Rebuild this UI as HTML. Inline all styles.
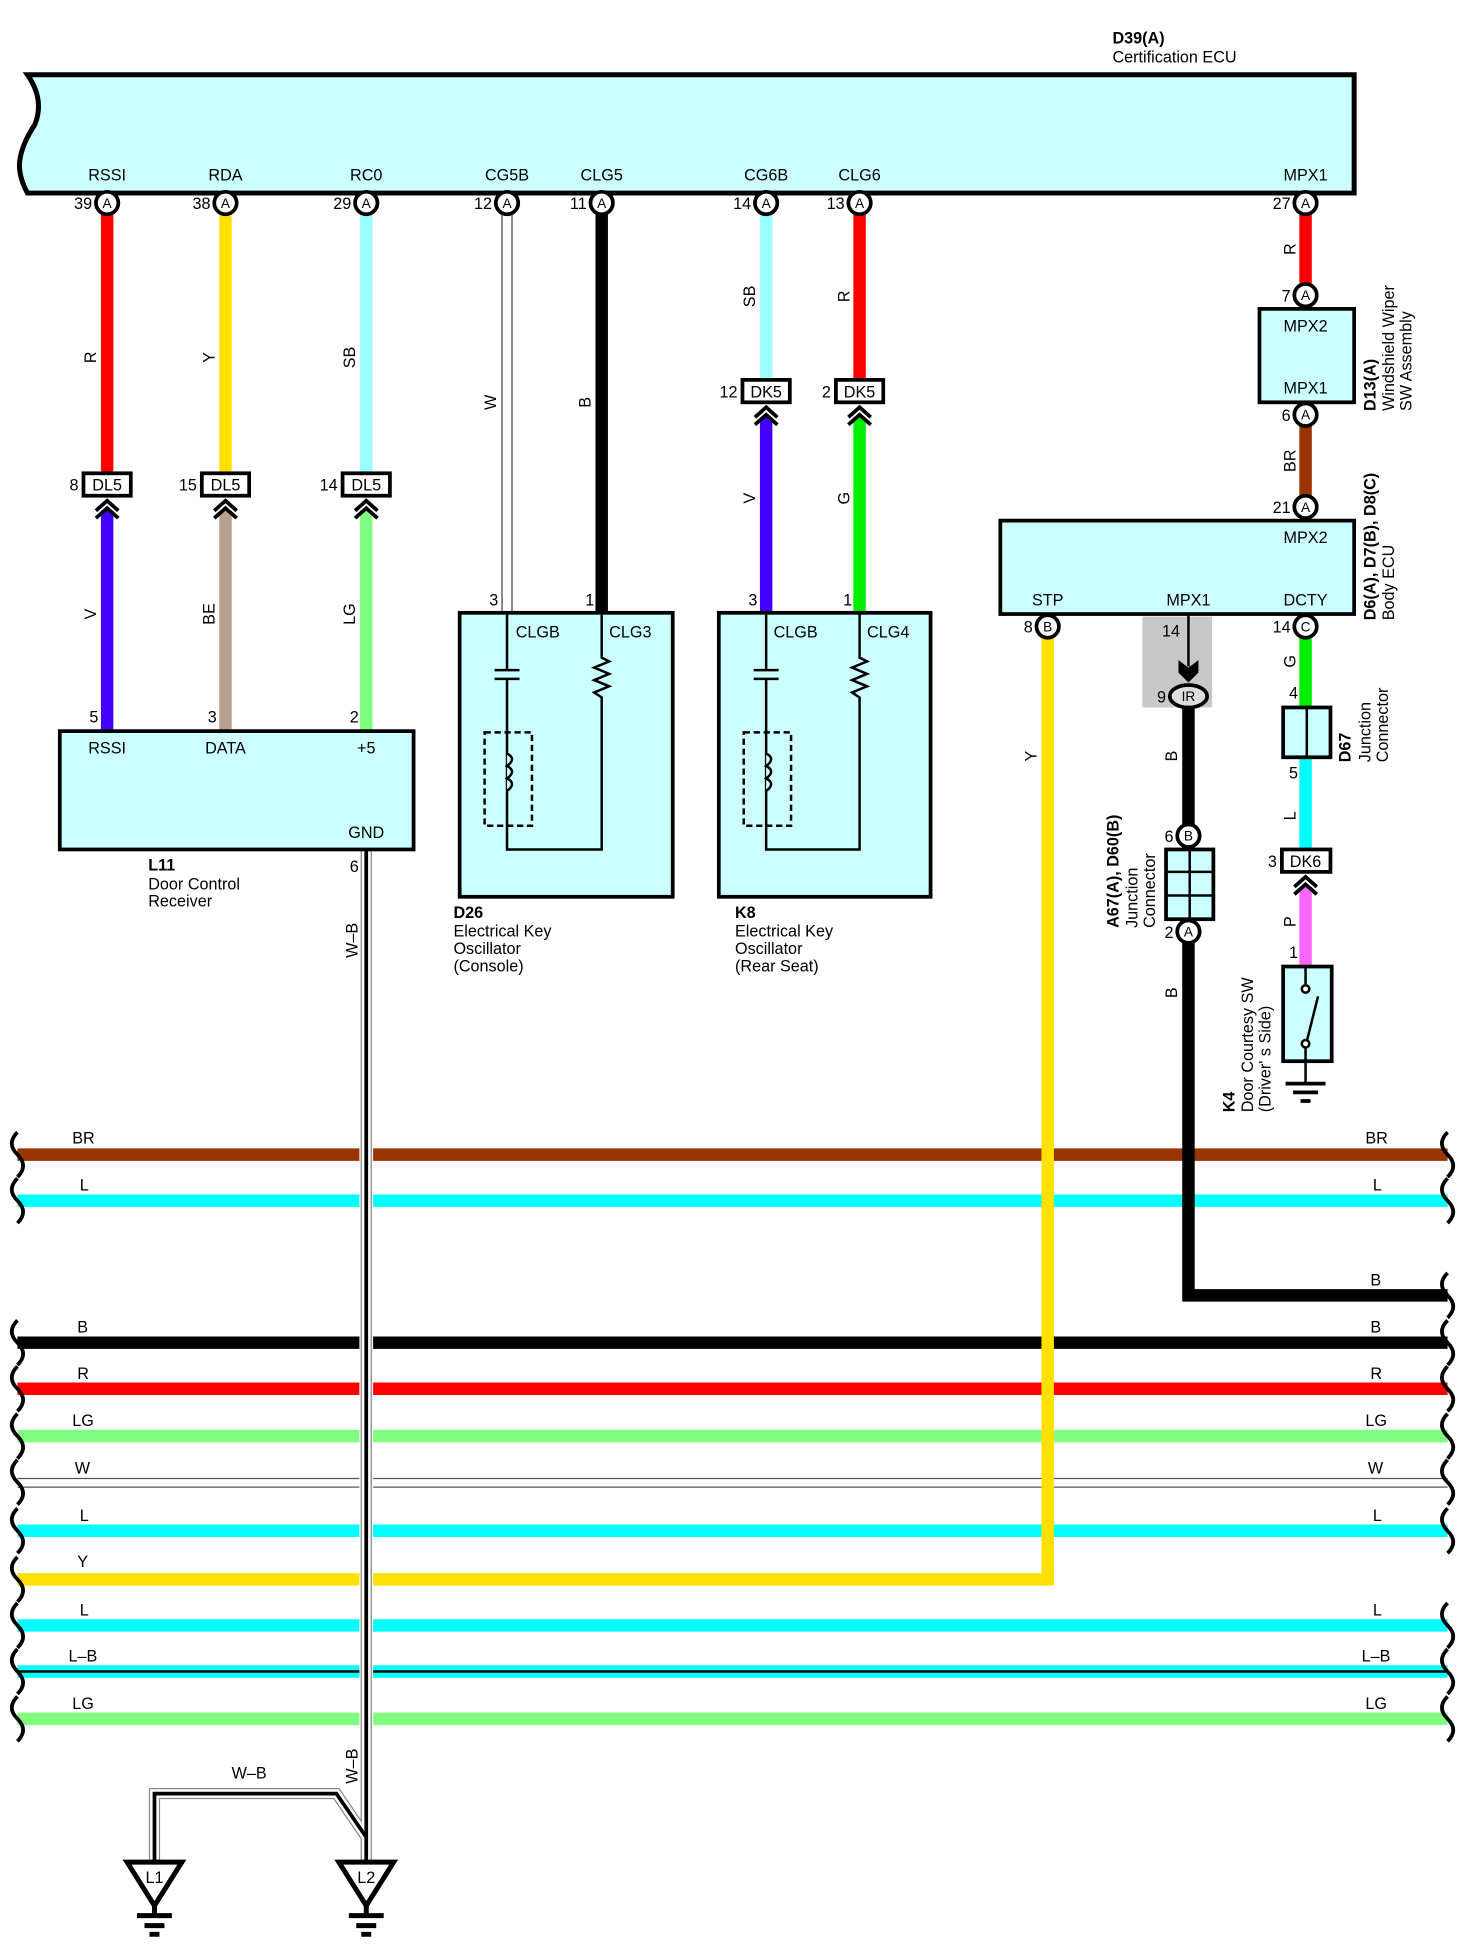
<!DOCTYPE html>
<html><head><meta charset="utf-8"><style>
html,body{margin:0;padding:0;background:#fff;}
svg{display:block;}
text{font-family:"Liberation Sans",Arial,sans-serif;font-size:13px;fill:#000;}
.b{font-weight:bold;}
.c{text-anchor:middle;}
.r{text-anchor:end;}
</style></head><body>
<svg width="1470" height="1953" viewBox="0 0 1180 1568" preserveAspectRatio="none" xmlns="http://www.w3.org/2000/svg">
<defs>
<path id="wv" d="M0 -18 q-9 9 0 18 q9 9 0 18" fill="none" stroke="#000" stroke-width="3"/>
</defs>

<!-- ECU -->
<path d="M22 60 L1087 60 L1087 155 L22 155 Q14 140 16 128 Q18 115 28 100 Q36 80 22 60 Z" fill="#ccffff" stroke="#000" stroke-width="4"/>
<text x="893" y="35" class="b">D39(A)</text>
<text x="893" y="50">Certification ECU</text>
<g class="c">
<text x="86" y="145" class="c">RSSI</text><text x="181" y="145" class="c">RDA</text><text x="294" y="145" class="c">RC0</text>
<text x="407" y="145" class="c">CG5B</text><text x="483" y="145" class="c">CLG5</text><text x="615" y="145" class="c">CG6B</text>
<text x="690" y="145" class="c">CLG6</text><text x="1048" y="145" class="c">MPX1</text>
</g>

<!-- bus lines -->
<g stroke-width="10" fill="none">
<line x1="14" y1="927" x2="1162" y2="927" stroke="#993300"/>
<line x1="14" y1="964" x2="1162" y2="964" stroke="#00ffff"/>
<line x1="14" y1="1078" x2="1162" y2="1078" stroke="#000"/>
<line x1="14" y1="1115" x2="1162" y2="1115" stroke="#ff0000"/>
<line x1="14" y1="1153" x2="1162" y2="1153" stroke="#80ff80"/>
<line x1="14" y1="1229" x2="1162" y2="1229" stroke="#00ffff"/>
<line x1="14" y1="1268" x2="841" y2="1268" stroke="#ffe000"/>
<line x1="14" y1="1305" x2="1162" y2="1305" stroke="#00ffff"/>
<line x1="14" y1="1342" x2="1162" y2="1342" stroke="#00ffff"/>
<line x1="14" y1="1380" x2="1162" y2="1380" stroke="#80ff80"/>
</g>
<line x1="14" y1="1342" x2="1162" y2="1342" stroke="#000" stroke-width="2"/>
<line x1="14" y1="1187" x2="1162" y2="1187" stroke="#555" stroke-width="1"/>
<line x1="14" y1="1194" x2="1162" y2="1194" stroke="#555" stroke-width="1"/>
<g>
<use href="#wv" x="14" y="927"/><use href="#wv" x="14" y="964"/><use href="#wv" x="14" y="1078"/><use href="#wv" x="14" y="1115"/>
<use href="#wv" x="14" y="1153"/><use href="#wv" x="14" y="1190"/><use href="#wv" x="14" y="1229"/><use href="#wv" x="14" y="1268"/>
<use href="#wv" x="14" y="1305"/><use href="#wv" x="14" y="1342"/><use href="#wv" x="14" y="1380"/>
<use href="#wv" x="1162" y="927"/><use href="#wv" x="1162" y="964"/><use href="#wv" x="1162" y="1040"/><use href="#wv" x="1162" y="1078"/><use href="#wv" x="1162" y="1115"/>
<use href="#wv" x="1162" y="1153"/><use href="#wv" x="1162" y="1190"/><use href="#wv" x="1162" y="1229"/>
<use href="#wv" x="1162" y="1305"/><use href="#wv" x="1162" y="1342"/><use href="#wv" x="1162" y="1380"/>
</g>
<g>
<text x="58" y="918">BR</text><text x="64" y="956">L</text><text x="62" y="1070">B</text><text x="62" y="1107">R</text>
<text x="58" y="1145">LG</text><text x="60" y="1183">W</text><text x="64" y="1221">L</text><text x="62" y="1258">Y</text>
<text x="64" y="1297">L</text><text x="55" y="1334">L–B</text><text x="58" y="1372">LG</text>
<text x="1096" y="918">BR</text><text x="1102" y="956">L</text><text x="1100" y="1032">B</text><text x="1100" y="1070">B</text><text x="1100" y="1107">R</text>
<text x="1096" y="1145">LG</text><text x="1098" y="1183">W</text><text x="1102" y="1221">L</text>
<text x="1102" y="1297">L</text><text x="1093" y="1334">L–B</text><text x="1096" y="1372">LG</text>
</g>

<!-- left wires -->
<g stroke-width="10">
<line x1="86" y1="172" x2="86" y2="380" stroke="#ff0000"/>
<line x1="181" y1="172" x2="181" y2="380" stroke="#ffe000"/>
<line x1="294" y1="172" x2="294" y2="380" stroke="#99ffff"/>
<line x1="86" y1="410" x2="86" y2="588" stroke="#4400ff"/>
<line x1="181" y1="410" x2="181" y2="588" stroke="#b8a08c"/>
<line x1="294" y1="410" x2="294" y2="588" stroke="#80ff80"/>
<line x1="483" y1="172" x2="483" y2="493" stroke="#000"/>
<line x1="615" y1="172" x2="615" y2="305" stroke="#99ffff"/>
<line x1="690" y1="172" x2="690" y2="305" stroke="#ff0000"/>
<line x1="615" y1="335" x2="615" y2="493" stroke="#4400ff"/>
<line x1="690" y1="335" x2="690" y2="493" stroke="#00ee00"/>
<line x1="1048" y1="172" x2="1048" y2="230" stroke="#ff0000"/>
<line x1="1048" y1="340" x2="1048" y2="400" stroke="#993300"/>
<line x1="841" y1="510" x2="841" y2="1268" stroke="#ffe000"/>
<line x1="1048" y1="510" x2="1048" y2="568" stroke="#00ee00"/>
<line x1="1048" y1="608" x2="1048" y2="682" stroke="#00ffff"/>
<line x1="1048" y1="712" x2="1048" y2="776" stroke="#ff66ff"/>
</g>
<line x1="836" y1="1268" x2="846" y2="1268" stroke="#ffe000" stroke-width="10"/>
<path d="M954 568 L954 1040 L1162 1040" fill="none" stroke="#000" stroke-width="10"/>
<!-- W wire -->
<rect x="403" y="172" width="8" height="320" fill="#fff" stroke="#444" stroke-width="1"/>

<!-- W-B wire -->
<path d="M294 682 L294 1490 M294 1475 L270 1440 L124 1440 L124 1495" fill="none" stroke="#fff" stroke-width="11"/>
<path d="M294 682 L294 1495 M294 1475 L270 1440 L124 1440 L124 1495" fill="none" stroke="#888" stroke-width="9"/>
<path d="M294 682 L294 1495 M294 1475 L270 1440 L124 1440 L124 1495" fill="none" stroke="#fff" stroke-width="7"/>
<path d="M294 682 L294 1495 M294 1475 L270 1440 L124 1440 L124 1495" fill="none" stroke="#000" stroke-width="3"/>
<g transform="translate(287,755) rotate(-90)"><text class="c">W–B</text></g>
<g transform="translate(287,1418) rotate(-90)"><text class="c">W–B</text></g>
<text x="200" y="1428" class="c">W–B</text>
<!-- grounds -->
<g fill="none" stroke="#000" stroke-width="4">
<path d="M102 1495 L146 1495 L124 1530 Z"/><path d="M272 1495 L316 1495 L294 1530 Z"/>
<path d="M124 1530 L124 1538 M110 1538 L138 1538 M116 1546 L132 1546 M120 1553 L128 1553"/>
<path d="M294 1530 L294 1538 M280 1538 L308 1538 M286 1546 L302 1546 M290 1553 L298 1553"/>
</g>
<text x="124" y="1512" class="c">L1</text><text x="294" y="1512" class="c">L2</text>

<!-- pin circles -->
<g fill="#fff" stroke="#000" stroke-width="3">
<circle cx="86" cy="163" r="9"/><circle cx="181" cy="163" r="9"/><circle cx="294" cy="163" r="9"/><circle cx="407" cy="163" r="9"/>
<circle cx="483" cy="163" r="9"/><circle cx="615" cy="163" r="9"/><circle cx="690" cy="163" r="9"/><circle cx="1048" cy="163" r="9"/>
<circle cx="1048" cy="237" r="9"/><circle cx="1048" cy="333" r="9"/><circle cx="1048" cy="407" r="9"/>
<circle cx="841" cy="503" r="9"/><circle cx="1048" cy="503" r="9"/><circle cx="954" cy="671" r="9"/><circle cx="954" cy="748" r="9"/>
</g>
<g>
<text x="86" y="167" class="c" style="font-size:11px">A</text><text x="181" y="167" class="c" style="font-size:11px">A</text><text x="294" y="167" class="c" style="font-size:11px">A</text>
<text x="407" y="167" class="c" style="font-size:11px">A</text><text x="483" y="167" class="c" style="font-size:11px">A</text><text x="615" y="167" class="c" style="font-size:11px">A</text>
<text x="690" y="167" class="c" style="font-size:11px">A</text><text x="1048" y="167" class="c" style="font-size:11px">A</text><text x="1048" y="241" class="c" style="font-size:11px">A</text>
<text x="1048" y="337" class="c" style="font-size:11px">A</text><text x="1048" y="411" class="c" style="font-size:11px">A</text><text x="841" y="507" class="c" style="font-size:11px">B</text>
<text x="1048" y="507" class="c" style="font-size:11px">C</text><text x="954" y="675" class="c" style="font-size:11px">B</text><text x="954" y="752" class="c" style="font-size:11px">A</text>
</g>
<g>
<text x="74" y="168" class="r">39</text><text x="169" y="168" class="r">38</text><text x="282" y="168" class="r">29</text><text x="395" y="168" class="r">12</text>
<text x="471" y="168" class="r">11</text><text x="603" y="168" class="r">14</text><text x="678" y="168" class="r">13</text><text x="1036" y="168" class="r">27</text>
<text x="1036" y="242" class="r">7</text><text x="1036" y="338" class="r">6</text><text x="1036" y="412" class="r">21</text>
<text x="829" y="508" class="r">8</text><text x="1036" y="508" class="r">14</text><text x="942" y="676" class="r">6</text><text x="942" y="753" class="r">2</text>
</g>

<!-- connector boxes -->
<g fill="#fff" stroke="#000" stroke-width="3">
<rect x="67" y="380" width="38" height="18"/><rect x="162" y="380" width="38" height="18"/><rect x="275" y="380" width="38" height="18"/>
<rect x="596" y="305" width="38" height="18"/><rect x="671" y="305" width="38" height="18"/><rect x="1029" y="682" width="39" height="18"/>
</g>
<text x="86" y="394" class="c">DL5</text><text x="181" y="394" class="c">DL5</text><text x="294" y="394" class="c">DL5</text>
<text x="615" y="319" class="c">DK5</text><text x="690" y="319" class="c">DK5</text><text x="1048" y="696" class="c">DK6</text>
<text x="63" y="394" class="r">8</text><text x="158" y="394" class="r">15</text><text x="271" y="394" class="r">14</text>
<text x="592" y="319" class="r">12</text><text x="667" y="319" class="r">2</text><text x="1025" y="696" class="r">3</text>
<!-- chevrons -->
<g fill="none" stroke="#000" stroke-width="3">
<path d="M77 410 L86 402 L95 410 M77 416 L86 408 L95 416"/>
<path d="M172 410 L181 402 L190 410 M172 416 L181 408 L190 416"/>
<path d="M285 410 L294 402 L303 410 M285 416 L294 408 L303 416"/>
<path d="M606 335 L615 327 L624 335 M606 341 L615 333 L624 341"/>
<path d="M681 335 L690 327 L699 335 M681 341 L690 333 L699 341"/>
<path d="M1039 712 L1048 704 L1057 712 M1039 718 L1048 710 L1057 718"/>
</g>

<!-- wire labels -->
<g>
<g transform="translate(77,287) rotate(-90)"><text class="c">R</text></g>
<g transform="translate(172,287) rotate(-90)"><text class="c">Y</text></g>
<g transform="translate(285,287) rotate(-90)"><text class="c">SB</text></g>
<g transform="translate(77,493) rotate(-90)"><text class="c">V</text></g>
<g transform="translate(172,493) rotate(-90)"><text class="c">BE</text></g>
<g transform="translate(285,493) rotate(-90)"><text class="c">LG</text></g>
<g transform="translate(398,323) rotate(-90)"><text class="c">W</text></g>
<g transform="translate(474,323) rotate(-90)"><text class="c">B</text></g>
<g transform="translate(606,238) rotate(-90)"><text class="c">SB</text></g>
<g transform="translate(682,238) rotate(-90)"><text class="c">R</text></g>
<g transform="translate(606,400) rotate(-90)"><text class="c">V</text></g>
<g transform="translate(682,400) rotate(-90)"><text class="c">G</text></g>
<g transform="translate(1040,200) rotate(-90)"><text class="c">R</text></g>
<g transform="translate(1040,370) rotate(-90)"><text class="c">BR</text></g>
<g transform="translate(832,607) rotate(-90)"><text class="c">Y</text></g>
<g transform="translate(945,607) rotate(-90)"><text class="c">B</text></g>
<g transform="translate(945,797) rotate(-90)"><text class="c">B</text></g>
<g transform="translate(1040,531) rotate(-90)"><text class="c">G</text></g>
<g transform="translate(1040,655) rotate(-90)"><text class="c">L</text></g>
<g transform="translate(1040,740) rotate(-90)"><text class="c">P</text></g>
</g>

<!-- L11 -->
<rect x="48" y="587" width="284" height="95" fill="#ccffff" stroke="#000" stroke-width="3"/>
<text x="86" y="605" class="c">RSSI</text><text x="181" y="605" class="c">DATA</text><text x="294" y="605" class="c">+5</text><text x="294" y="673" class="c">GND</text>
<text x="79" y="580" class="r">5</text><text x="174" y="580" class="r">3</text><text x="288" y="580" class="r">2</text><text x="288" y="700" class="r">6</text>
<text x="119" y="699" class="b">L11</text><text x="119" y="714">Door Control</text><text x="119" y="728">Receiver</text>

<!-- D26 -->
<rect x="369" y="492" width="171" height="228" fill="#ccffff" stroke="#000" stroke-width="3"/>
<text x="400" y="486" class="r">3</text><text x="477" y="486" class="r">1</text>
<text x="414" y="512">CLGB</text><text x="489" y="512">CLG3</text>
<g fill="none" stroke="#000" stroke-width="2">
<path d="M407 492 V538 M397 538 H417 M397 545 H417 M407 545 V682 H483 V560 L477 556 L489 551 L477 546 L489 541 L477 536 L489 531 L483 528 V492"/>
<rect x="389" y="588" width="38" height="75" stroke-dasharray="5 3"/>
<path d="M407 605 q8 4 0 10 q8 4 0 10 q8 4 0 10" fill="#ccffff"/>
</g>
<text x="364" y="737" class="b">D26</text><text x="364" y="752">Electrical Key</text><text x="364" y="766">Oscillator</text><text x="364" y="780">(Console)</text>

<!-- K8 -->
<rect x="577" y="492" width="170" height="228" fill="#ccffff" stroke="#000" stroke-width="3"/>
<text x="608" y="486" class="r">3</text><text x="684" y="486" class="r">1</text>
<text x="621" y="512">CLGB</text><text x="696" y="512">CLG4</text>
<g fill="none" stroke="#000" stroke-width="2">
<path d="M615 492 V538 M605 538 H625 M605 545 H625 M615 545 V682 H690 V560 L684 556 L696 551 L684 546 L696 541 L684 536 L696 531 L690 528 V492"/>
<rect x="597" y="588" width="38" height="75" stroke-dasharray="5 3"/>
<path d="M615 605 q8 4 0 10 q8 4 0 10 q8 4 0 10" fill="#ccffff"/>
</g>
<text x="590" y="737" class="b">K8</text><text x="590" y="752">Electrical Key</text><text x="590" y="766">Oscillator</text><text x="590" y="780">(Rear Seat)</text>

<!-- D13 -->
<rect x="1011" y="248" width="76" height="75" fill="#ccffff" stroke="#000" stroke-width="3"/>
<text x="1048" y="266" class="c">MPX2</text><text x="1048" y="316" class="c">MPX1</text>
<g transform="translate(1104,330) rotate(-90)"><text class="b">D13(A)</text></g>
<g transform="translate(1119,330) rotate(-90)"><text>Windshield Wiper</text></g>
<g transform="translate(1133,330) rotate(-90)"><text>SW Assembly</text></g>

<!-- Body ECU -->
<rect x="803" y="418" width="284" height="75" fill="#ccffff" stroke="#000" stroke-width="3"/>
<text x="1048" y="436" class="c">MPX2</text><text x="841" y="486" class="c">STP</text><text x="954" y="486" class="c">MPX1</text><text x="1048" y="486" class="c">DCTY</text>
<g transform="translate(1104,498) rotate(-90)"><text class="b">D6(A), D7(B), D8(C)</text></g>
<g transform="translate(1119,498) rotate(-90)"><text>Body ECU</text></g>

<rect x="917" y="495" width="56" height="73" fill="#c8c8c8"/>
<line x1="954" y1="493" x2="954" y2="535" stroke="#000" stroke-width="2"/>
<path d="M946 530 L954 536 L962 530 L962 540 L954 548 L946 540 Z" fill="#000"/>
<text x="940" y="511" class="c">14</text>
<ellipse cx="954" cy="559" rx="15" ry="9" fill="#ddd" stroke="#000" stroke-width="3"/>
<text x="954" y="563" class="c" style="font-size:11px">IR</text><text x="936" y="564" class="r">9</text>

<!-- A67 junction -->
<rect x="936" y="682" width="38" height="56" fill="#ccffff" stroke="#000" stroke-width="3"/>
<path d="M955 682 V738 M936 700 H974 M936 719 H974" stroke="#000" stroke-width="2"/>
<g transform="translate(898,745) rotate(-90)"><text class="b">A67(A), D60(B)</text></g>
<g transform="translate(913,745) rotate(-90)"><text>Junction</text></g>
<g transform="translate(927,745) rotate(-90)"><text>Connector</text></g>

<!-- D67 -->
<text x="1042" y="561" class="r">4</text><text x="1042" y="625" class="r">5</text>
<rect x="1030" y="568" width="38" height="40" fill="#ccffff" stroke="#000" stroke-width="3"/>
<line x1="1049" y1="568" x2="1049" y2="608" stroke="#000" stroke-width="2"/>
<g transform="translate(1084,612) rotate(-90)"><text class="b">D67</text></g>
<g transform="translate(1100,612) rotate(-90)"><text>Junction</text></g>
<g transform="translate(1114,612) rotate(-90)"><text>Connector</text></g>

<!-- K4 -->
<text x="1042" y="769" class="r">1</text>
<rect x="1030" y="776" width="39" height="76" fill="#ccffff" stroke="#000" stroke-width="3"/>
<g fill="#fff" stroke="#000" stroke-width="2">
<line x1="1048" y1="776" x2="1048" y2="790"/><circle cx="1048" cy="794" r="3"/>
<line x1="1048" y1="840" x2="1058" y2="800"/><circle cx="1048" cy="838" r="3"/>
<line x1="1048" y1="841" x2="1048" y2="870"/>
</g>
<path d="M1032 870 H1064 M1038 877 H1058 M1044 884 H1052" stroke="#000" stroke-width="3"/>
<g transform="translate(991,893) rotate(-90)"><text class="b">K4</text></g>
<g transform="translate(1006,893) rotate(-90)"><text>Door Courtesy SW</text></g>
<g transform="translate(1020,893) rotate(-90)"><text>(Driver' s Side)</text></g>
</svg>
</body></html>
